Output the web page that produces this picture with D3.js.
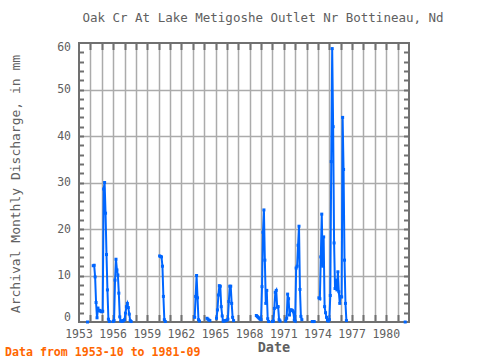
<!DOCTYPE html>
<html>
<head>
<meta charset="utf-8">
<script src="https://cdn.jsdelivr.net/npm/d3@7"></script>
<style>
  html, body { margin: 0; padding: 0; background: #fff; }
  svg { display: block; }
  text { font-family: "DejaVu Sans Mono", "Liberation Mono", monospace; }
</style>
</head>
<body>
<svg id="chart" width="480" height="360"></svg>
<script>
// ---- data ----
const titleText = "Oak Cr At Lake Metigoshe Outlet Nr Bottineau, Nd";
const yLabelText = "Archival Monthly Discharge, in mm";
const xLabelText = "Date";
const footerText = "Data from 1953-10 to 1981-09";
const startYear = 1953, startMonth = 10; // first value = 1953-10
const xTickLabels = [1953, 1956, 1959, 1962, 1965, 1968, 1971, 1974, 1977, 1980];
const yTickLabels = [0, 10, 20, 30, 40, 50, 60];
// monthly discharge (mm), one row per water year Oct..Sep, null = missing
const discharge = [
  0, null, null, null, null, null, 12.1, 12.2, 9.7, 4.2, 0.9, 3.0,        // 1953-10
  2.4, 2.5, 2.3, 2.2, 2.3, 28.6, 30.0, 23.4, 14.5, 6.9, 0.6, 0.1,         // 1954-10
  null, null, null, 0.1, 0.3, 9.0, 13.5, 11.2, 10.1, 6.2, 1.1, 0.2,      // 1955-10
  0.2, 0.2, 0.3, 0.5, 1.9, 3.3, 4.0, 3.1, 1.7, 0.3, 0.1, null,           // 1956-10
  null, null, null, null, null, null, null, null, null, null, null, null, // 1957-10
  null, null, null, null, null, null, null, null, null, null, null, null, // 1958-10
  null, null, null, null, 14.2, 14.1, 14.0, 12.0, 5.5, 0.5, 0.1, null,   // 1959-10
  null, null, null, null, null, null, null, null, null, null, null, null, // 1960-10
  null, null, null, null, null, null, null, null, null, null, null, null, // 1961-10
  null, null, null, null, null, 1.0, 5.5, 10.0, 5.2, 0.5, 0.2, null,     // 1962-10
  null, null, null, null, null, null, 0.8, 0.6, 0.4, 0.3, null, null,    // 1963-10
  null, null, null, null, 0.8, 2.6, 5.8, 7.8, 7.7, 3.3, 1.3, 0.2,        // 1964-10
  0.2, 0.3, 0.3, 0.4, 0.6, 4.4, 7.7, 7.7, 4.0, 1.0, 0.3, null,           // 1965-10
  null, null, null, null, null, null, null, null, null, null, null, null, // 1966-10
  null, null, null, null, null, null, null, null, null, null, 1.4, 1.2,  // 1967-10
  1.0, 0.8, 0.6, 0.5, 7.6, 19.3, 24.1, 13.3, 4.0, 6.8, 0.7, 0.1,         // 1968-10
  null, null, null, 0.1, 0.2, 2.9, 6.4, 6.8, 3.2, 3.3, 0.5, 0.2,         // 1969-10
  null, null, null, null, null, 0.2, 0.8, 6.0, 5.0, 1.5, 2.6, 2.6,       // 1970-10
  2.5, 2.2, 0.4, 0.2, 11.6, 12.0, 16.5, 20.6, 7.0, 1.2, 0.5, null,       // 1971-10
  null, null, null, null, null, null, null, null, null, 0.1, 0.1, 0.1,   // 1972-10
  null, null, null, null, 5.2, 5.0, 14.0, 23.2, 12.0, 18.3, 3.3, 2.0,    // 1973-10
  1.0, 0.3, 0.2, 0.5, 5.7, 34.5, 58.8, 42.0, 17.0, 7.2, 9.0, 6.9,        // 1974-10
  10.8, 6.5, 4.0, 5.5, 5.4, 44.0, 32.8, 13.3, 4.0, 0.3, null, null,      // 1975-10
  null, null, null, null, null, null, null, null, null, null, null, null, // 1976-10
  null, null, null, null, null, null, null, null, null, null, null, null, // 1977-10
  null, null, null, null, null, null, null, null, null, null, null, null, // 1978-10
  null, null, null, null, null, null, null, null, null, null, null, null, // 1979-10
  null, null, null, null, null, null, null, null, null, null, null, 0    // 1980-10
];

// ---- build records ----
const records = discharge.map((v, i) => ({
  t: startYear + (startMonth - 1) / 12 + i / 12,
  v: v
}));

// ---- layout ----
const svg = d3.select("#chart");
const L = 79, R = 409, T = 43, B = 322;
const x = d3.scaleLinear().domain([1953, 1982]).range([L, R]);
const y = d3.scaleLinear().domain([0, 60]).range([B, T]);

const frameColor = "#707070";
const gridColor = "#ababab";
const textColor = "#606060";
const lineColor = "#0066ff";

// grid
const yearTicks = d3.range(1954, 1982);
svg.append("g").selectAll("line").data(yearTicks).join("line")
  .attr("x1", d => Math.round(x(d)) + 0.5).attr("x2", d => Math.round(x(d)) + 0.5)
  .attr("y1", T).attr("y2", B)
  .attr("stroke", gridColor).attr("stroke-width", 1.5);
svg.append("g").selectAll("line").data(yTickLabels.filter(d => d > 0 && d < 60)).join("line")
  .attr("x1", L).attr("x2", R)
  .attr("y1", d => Math.round(y(d)) + 0.5).attr("y2", d => Math.round(y(d)) + 0.5)
  .attr("stroke", gridColor).attr("stroke-width", 1.5);

// frame
svg.append("rect").attr("x", L).attr("y", T).attr("width", R - L).attr("height", B - T)
  .attr("fill", "none").attr("stroke", frameColor).attr("stroke-width", 2);

// year ticks top and bottom (inward)
const tickG = svg.append("g").attr("stroke", frameColor).attr("stroke-width", 2);
tickG.selectAll(".tb").data(yearTicks).join("line")
  .attr("x1", d => Math.round(x(d)) + 0.5).attr("x2", d => Math.round(x(d)) + 0.5)
  .attr("y1", B).attr("y2", B - 7);
tickG.selectAll(".tt").data(yearTicks).join("line")
  .attr("x1", d => Math.round(x(d)) + 0.5).attr("x2", d => Math.round(x(d)) + 0.5)
  .attr("y1", T).attr("y2", T + 7);
// minor y ticks every 2 units, left and right (inward)
const yMinor = d3.range(2, 60, 2);
tickG.selectAll(".yl").data(yMinor).join("line")
  .attr("x1", L).attr("x2", L + 5)
  .attr("y1", d => Math.round(y(d)) + 0.5).attr("y2", d => Math.round(y(d)) + 0.5);
tickG.selectAll(".yr").data(yMinor).join("line")
  .attr("x1", R).attr("x2", R - 5)
  .attr("y1", d => Math.round(y(d)) + 0.5).attr("y2", d => Math.round(y(d)) + 0.5);

// tick labels
svg.append("g").selectAll("text").data(xTickLabels).join("text")
  .attr("x", d => x(d)).attr("y", 334)
  .attr("text-anchor", "middle").attr("dominant-baseline", "middle")
  .attr("font-size", "11.5px").attr("fill", textColor)
  .text(d => d);
svg.append("g").selectAll("text").data(yTickLabels).join("text")
  .attr("x", 71).attr("y", d => Math.min(Math.max(y(d), 47), 317))
  .attr("text-anchor", "end").attr("dominant-baseline", "middle")
  .attr("font-size", "11.5px").attr("fill", textColor)
  .text(d => d);

// titles
svg.append("text").attr("x", 263).attr("y", 18.5)
  .attr("text-anchor", "middle").attr("dominant-baseline", "middle")
  .attr("font-size", "12.5px").attr("fill", textColor).text(titleText);
svg.append("text").attr("x", 274).attr("y", 348)
  .attr("text-anchor", "middle").attr("dominant-baseline", "middle")
  .attr("font-size", "13.5px").attr("font-weight", "bold").attr("fill", textColor).text(xLabelText);
svg.append("text").attr("transform", "translate(16,184) rotate(-90)")
  .attr("text-anchor", "middle").attr("dominant-baseline", "middle")
  .attr("font-size", "13px").attr("fill", textColor).text(yLabelText);
svg.append("text").attr("x", 5).attr("y", 352)
  .attr("dominant-baseline", "middle")
  .attr("font-size", "11.6px").attr("font-weight", "bold").attr("fill", "#ff6600").text(footerText);

// data line
const line = d3.line().defined(d => d.v !== null).x(d => x(d.t)).y(d => y(d.v));
svg.append("path").datum(records).attr("d", line)
  .attr("fill", "none").attr("stroke", lineColor).attr("stroke-width", 2)
  .attr("stroke-linejoin", "miter");
svg.append("g").selectAll("rect").data(records.filter(d => d.v !== null)).join("rect")
  .attr("x", d => x(d.t) - 1.5).attr("y", d => y(d.v) - 1.5)
  .attr("width", 3).attr("height", 3).attr("fill", lineColor);
</script>
</body>
</html>
